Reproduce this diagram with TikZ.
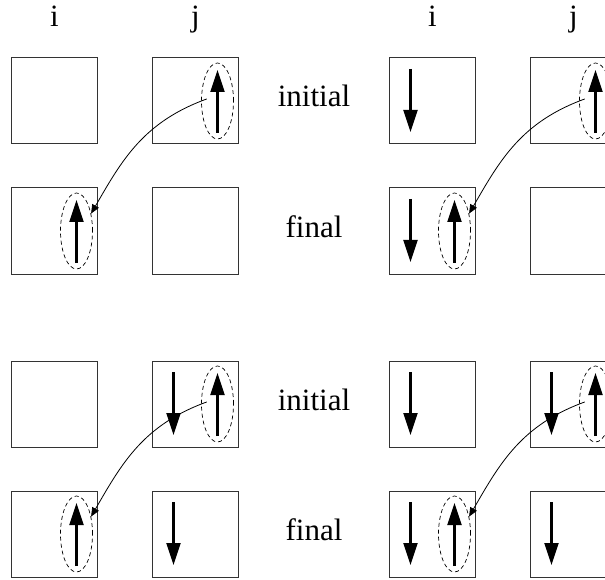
\documentclass[tikz,border=0pt]{standalone}
\usepackage{fontspec}
\setmainfont{Liberation Serif}
\usetikzlibrary{positioning,shapes.geometric,arrows.meta}
\tikzset{cell/.style={rectangle, draw=black!80, line width=1pt, minimum size=86pt, inner sep=0pt},
hole/.style={ellipse, draw, dash pattern=on 4pt off 3pt, line width=0.7pt, minimum width=32pt, minimum height=76pt, inner sep=0pt},
spin/.style={line width=2.2pt, -{Triangle[length=22pt,width=14pt]}},
hop/.style={line width=0.8pt, shorten <=-6pt, -{Triangle[length=9pt,width=7.5pt]}},
site/.style={font=\fontsize{31}{36}\selectfont, anchor=base},
stage/.style={font=\fontsize{31}{36}\selectfont, anchor=base, yshift=-6pt},}
\newcommand{\upspin}[1]{\draw[spin] ([xshift=22pt,yshift=-32pt]#1.center) -- ([xshift=22pt,yshift=31pt]#1.center);}
\newcommand{\downspin}[1]{\draw[spin] ([xshift=-22pt,yshift=32pt]#1.center) -- ([xshift=-22pt,yshift=-31pt]#1.center);}

\begin{document}
\begin{tikzpicture}[x=1pt, y=-1pt, node distance=43pt and 54pt]
\useasboundingbox (0,0) rectangle (605,580);
\clip (0,0) rectangle (605,580);
% left group
\node [cell] (a1) at (54.5,101) {};
\node [cell] (b1) [right=of a1] {};
\node [cell] (a2) [below=of a1] {};
\node [cell] (b2) [right=of a2] {};
\node [cell] (a3) [below=86pt of a2] {};
\node [cell] (b3) [right=of a3] {};
\node [cell] (a4) [below=of a3] {};
\node [cell] (b4) [right=of a4] {};
% right group
\node [cell] (c1) [right=150pt of b1] {};
\node [cell] (d1) [right=of c1] {};
\node [cell] (c2) [below=of c1] {};
\node [cell] (d2) [right=of c2] {};
\node [cell] (c3) [below=86pt of c2] {};
\node [cell] (d3) [right=of c3] {};
\node [cell] (c4) [below=of c3] {};
\node [cell] (d4) [right=of c4] {};
% site labels
\node [site] (i1) [above=31pt of a1, anchor=base] {i};
\node [site] (j1) [above=31pt of b1, anchor=base] {j};
\node [site] (i2) [above=31pt of c1, anchor=base] {i};
\node [site] (j2) [above=31pt of d1, anchor=base] {j};
\path (b1) -- node[stage] {initial} (c1);
\path (b2) -- node[stage] {final} (c2);
\path (b3) -- node[stage] {initial} (c3);
\path (b4) -- node[stage] {final} (c4);
% holes
\node [hole] (h1) at ([xshift=22pt]b1.center) {};
\node [hole] (h2) at ([xshift=22pt]a2.center) {};
\node [hole] (h3) at ([xshift=22pt]d1.center) {};
\node [hole] (h4) at ([xshift=22pt]c2.center) {};
\node [hole] (h5) at ([xshift=22pt]b3.center) {};
\node [hole] (h6) at ([xshift=22pt]a4.center) {};
\node [hole] (h7) at ([xshift=22pt]d3.center) {};
\node [hole] (h8) at ([xshift=22pt]c4.center) {};
% spins
\upspin{b1} \upspin{a2}
\downspin{c1} \upspin{d1} \downspin{c2} \upspin{c2}
\downspin{b3} \upspin{b3} \upspin{a4} \downspin{b4}
\downspin{c3} \downspin{d3} \upspin{d3} \downspin{c4} \upspin{c4} \downspin{d4}
% hops
\draw[hop] (h1.west) to[out=200, in=60] (h2.50);
\draw[hop] (h3.west) to[out=200, in=60] (h4.50);
\draw[hop] (h5.west) to[out=200, in=60] (h6.50);
\draw[hop] (h7.west) to[out=200, in=60] (h8.50);
\end{tikzpicture}
\end{document}
